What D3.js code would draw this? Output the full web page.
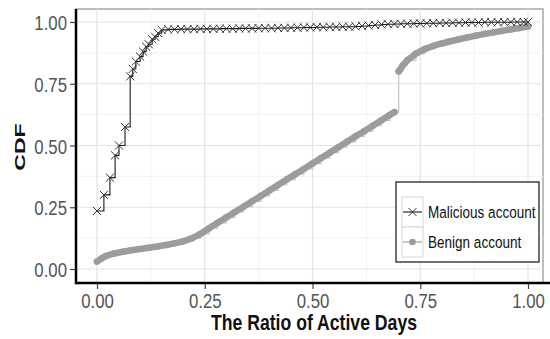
<!DOCTYPE html>
<html lang="en">
<head>
<meta charset="utf-8">
<title>CDF of active days</title>
<script src="https://d3js.org/d3.v7.min.js"></script>
<style>
  body { margin: 0; background: #fff; }
  svg text { font-family: "Liberation Sans", Arial, sans-serif; }
</style>
</head>
<body>
<div id="chart"></div>
<script>
// data
const xTicks = [0, 0.25, 0.5, 0.75, 1];
const yTicks = [0, 0.25, 0.5, 0.75, 1];
const seriesNames = ["Malicious account", "Benign account"];

const malX = [0, 0.016, 0.03, 0.042, 0.051, 0.065, 0.077, 0.083, 0.09, 0.1, 0.107, 0.114, 0.12, 0.128, 0.135, 0.142, 0.15,
  0.165, 0.18, 0.195, 0.21, 0.225, 0.24, 0.255, 0.27, 0.285, 0.30, 0.315, 0.33, 0.345, 0.36, 0.375, 0.39, 0.405, 0.42, 0.435, 0.45,
  0.465, 0.48, 0.495, 0.51, 0.525, 0.54, 0.555, 0.57, 0.585, 0.60,
  0.615, 0.63, 0.645, 0.66, 0.675, 0.69, 0.705,
  0.72, 0.735, 0.75, 0.765, 0.78, 0.795, 0.81, 0.825, 0.84, 0.855,
  0.87, 0.885, 0.90, 0.915, 0.93, 0.945, 0.96, 0.975, 0.99, 1.0];
const malY = [0.235, 0.30, 0.37, 0.46, 0.50, 0.575, 0.78, 0.81, 0.84, 0.86, 0.88, 0.90, 0.91, 0.93, 0.94, 0.955, 0.968,
  0.970, 0.970, 0.971, 0.971, 0.971, 0.972, 0.972, 0.972, 0.973, 0.973, 0.973, 0.974, 0.974, 0.974, 0.975, 0.975, 0.975, 0.976, 0.976, 0.977,
  0.977, 0.978, 0.978, 0.979, 0.979, 0.980, 0.980, 0.981, 0.981, 0.982,
  0.984, 0.986, 0.988, 0.990, 0.991, 0.992, 0.993,
  0.993, 0.994, 0.994, 0.995, 0.995, 0.996, 0.996, 0.997, 0.997, 0.998,
  0.998, 0.998, 0.999, 0.999, 0.999, 0.999, 1, 1, 1, 1];

const benX = [0, 0.01, 0.02, 0.04, 0.06, 0.08, 0.10, 0.12, 0.14, 0.16, 0.18, 0.20, 0.22, 0.24,
  0.26, 0.28, 0.30, 0.32, 0.34, 0.36, 0.38, 0.40, 0.42, 0.44, 0.46, 0.48, 0.50, 0.52, 0.54, 0.56, 0.58, 0.60,
  0.62, 0.64, 0.66, 0.68, 0.69, 0.70, 0.71, 0.72, 0.74, 0.76, 0.78, 0.80, 0.82, 0.84, 0.86, 0.88, 0.90,
  0.92, 0.94, 0.96, 0.98, 1.0];
const benY = [0.03, 0.042, 0.052, 0.063, 0.07, 0.076, 0.081, 0.086, 0.091, 0.097, 0.104, 0.112, 0.124, 0.142,
  0.165, 0.187, 0.209, 0.231, 0.252, 0.274, 0.296, 0.318, 0.340, 0.362, 0.384, 0.405, 0.427, 0.449, 0.471, 0.493, 0.515, 0.537,
  0.558, 0.580, 0.602, 0.624, 0.635, 0.80, 0.825, 0.845, 0.872, 0.890, 0.903, 0.913, 0.922, 0.930, 0.938, 0.945, 0.952,
  0.958, 0.964, 0.970, 0.976, 0.982];

const W = 550, H = 339;
const panel = { left: 76, right: 543, top: 9, bottom: 283 };
const narrow = 0.82; // the original text is horizontally squeezed

const svg = d3.select("#chart").append("svg")
  .attr("width", W)
  .attr("height", H);

const x = d3.scaleLinear().domain([0, 1]).range([97, 528]);
const y = d3.scaleLinear().domain([0, 1]).range([269, 22]);

// panel + grid
svg.append("rect")
  .attr("x", panel.left).attr("y", panel.top)
  .attr("width", panel.right - panel.left).attr("height", panel.bottom - panel.top)
  .attr("fill", "#fff").attr("stroke", "#a8a8a8").attr("stroke-width", 1.5);

const minor = [0.125, 0.375, 0.625, 0.875];
svg.append("g").selectAll("line").data(minor).join("line")
  .attr("x1", d => x(d)).attr("x2", d => x(d))
  .attr("y1", panel.top).attr("y2", panel.bottom)
  .attr("stroke", "#f2f2f2").attr("stroke-width", 1);
svg.append("g").selectAll("line").data(minor).join("line")
  .attr("y1", d => y(d)).attr("y2", d => y(d))
  .attr("x1", panel.left).attr("x2", panel.right)
  .attr("stroke", "#f2f2f2").attr("stroke-width", 1);
svg.append("g").selectAll("line").data(xTicks).join("line")
  .attr("x1", d => x(d)).attr("x2", d => x(d))
  .attr("y1", panel.top).attr("y2", panel.bottom)
  .attr("stroke", "#e3e3e3").attr("stroke-width", 1.2);
svg.append("g").selectAll("line").data(yTicks).join("line")
  .attr("y1", d => y(d)).attr("y2", d => y(d))
  .attr("x1", panel.left).attr("x2", panel.right)
  .attr("stroke", "#e3e3e3").attr("stroke-width", 1.2);

// benign series: thin line for everything, thick band where points are dense
const ben = benX.map((v, i) => ({ x: v, y: benY[i] }));
const benColor = "#9c9c9c";
svg.append("path")
  .datum(ben)
  .attr("fill", "none").attr("stroke", "#c4c4c4").attr("stroke-width", 1.2)
  .attr("d", d3.line().x(d => x(d.x)).y(d => y(d.y)).curve(d3.curveStepAfter));

// break the thick band at the big jump
const segs = [[]];
ben.forEach((p, i) => {
  if (i > 0 && p.y - ben[i - 1].y > 0.1) segs.push([]);
  segs[segs.length - 1].push(p);
});
svg.append("g").selectAll("path").data(segs).join("path")
  .attr("fill", "none").attr("stroke", benColor)
  .attr("stroke-width", 6.5).attr("stroke-linecap", "round").attr("stroke-linejoin", "round")
  .attr("d", d3.line().x(d => x(d.x)).y(d => y(d.y)));
svg.append("g").selectAll("circle").data(ben).join("circle")
  .attr("cx", d => x(d.x)).attr("cy", d => y(d.y)).attr("r", 3.3)
  .attr("fill", benColor);

// malicious series: step line + x markers
const mal = malX.map((v, i) => ({ x: v, y: malY[i] }));
svg.append("path")
  .datum(mal)
  .attr("fill", "none").attr("stroke", "#1a1a1a").attr("stroke-width", 1.1)
  .attr("d", d3.line().x(d => x(d.x)).y(d => y(d.y)).curve(d3.curveStepAfter));

const cross = d3.symbol().type(d3.symbolTimes).size(45);
svg.append("g").selectAll("path").data(mal).join("path")
  .attr("transform", d => `translate(${x(d.x)},${y(d.y)})`)
  .attr("d", cross)
  .attr("fill", "none").attr("stroke", "#333").attr("stroke-width", 1);

// axes
const xAxis = svg.append("g")
  .attr("transform", `translate(0,${panel.bottom})`)
  .call(d3.axisBottom(x).tickValues(xTicks).tickFormat(d3.format(".2f")).tickSize(6));
const yAxis = svg.append("g")
  .attr("transform", `translate(${panel.left},0)`)
  .call(d3.axisLeft(y).tickValues(yTicks).tickFormat(d3.format(".2f")).tickSize(6));
[xAxis, yAxis].forEach(a => {
  a.select(".domain").remove();
  a.selectAll(".tick line").attr("stroke", "#444").attr("stroke-width", 1.2);
  a.selectAll(".tick text").attr("fill", "#555").style("font-size", "20.5px");
});
xAxis.selectAll(".tick text")
  .attr("y", 0).attr("dy", 0)
  .attr("transform", `translate(0,25) scale(${narrow},1)`);
yAxis.selectAll(".tick text")
  .attr("x", 0).attr("dy", 0)
  .attr("transform", `translate(-9,7.5) scale(${narrow},1)`);

svg.append("line")
  .attr("x1", panel.left).attr("x2", W)
  .attr("y1", panel.bottom).attr("y2", panel.bottom)
  .attr("stroke", "#000").attr("stroke-width", 2.5);
svg.append("line")
  .attr("x1", panel.left).attr("x2", panel.left)
  .attr("y1", panel.top).attr("y2", panel.bottom + 1.2)
  .attr("stroke", "#000").attr("stroke-width", 2.5);

// axis titles
svg.append("text")
  .attr("transform", `translate(314,330) scale(${narrow},1)`)
  .attr("text-anchor", "middle")
  .style("font-size", "21.5px").style("font-weight", "bold")
  .attr("fill", "#111")
  .text("The Ratio of Active Days");

svg.append("text")
  .attr("transform", "translate(25,147) rotate(-90) scale(1,0.62)")
  .attr("text-anchor", "middle")
  .style("font-size", "23px").style("font-weight", "bold")
  .attr("fill", "#111")
  .text("CDF");

// legend
const lg = svg.append("g");
lg.append("rect")
  .attr("x", 396).attr("y", 182).attr("width", 143).attr("height", 80)
  .attr("fill", "#fff").attr("stroke", "#111").attr("stroke-width", 1.2);

const keys = lg.selectAll("g.key").data(seriesNames).join("g")
  .attr("class", "key")
  .attr("transform", (d, i) => `translate(402,${197 + i * 30})`);
keys.append("rect")
  .attr("width", 21).attr("height", 30)
  .attr("fill", "#fff").attr("stroke", "#d6d6d6").attr("stroke-width", 1);
keys.append("line")
  .attr("x1", 1).attr("x2", 20).attr("y1", 15).attr("y2", 15)
  .attr("stroke", (d, i) => i === 0 ? "#1a1a1a" : benColor).attr("stroke-width", 1.1);
keys.filter((d, i) => i === 0).append("path")
  .attr("transform", "translate(10.5,15)")
  .attr("d", cross).attr("fill", "none").attr("stroke", "#333").attr("stroke-width", 1);
keys.filter((d, i) => i === 1).append("circle")
  .attr("cx", 10.5).attr("cy", 15).attr("r", 3.3).attr("fill", benColor);
keys.append("text")
  .attr("transform", `translate(26,21) scale(${narrow},1)`)
  .style("font-size", "16.5px").attr("fill", "#111")
  .text(d => d);
</script>
</body>
</html>
